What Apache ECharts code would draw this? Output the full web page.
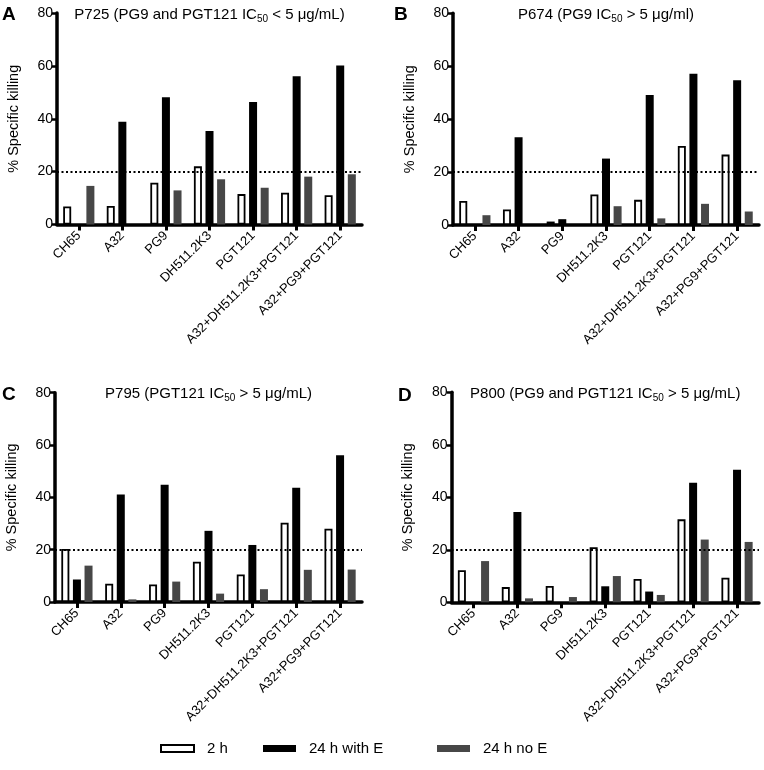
<!DOCTYPE html>
<html>
<head>
<meta charset="utf-8">
<script src="https://cdn.jsdelivr.net/npm/echarts@6/dist/echarts.min.js"></script>
<style>
html,body{margin:0;padding:0;background:#fff;}
#main{width:764px;height:770px;}
</style>
</head>
<body>
<div id="main"></div>
<script>
// ---- data ----
const categories = ['CH65','A32','PG9','DH511.2K3','PGT121','A32+DH511.2K3+PGT121','A32+PG9+PGT121'];
const seriesNames = ['2 h','24 h with E','24 h no E'];
const yTicks = [0, 20, 40, 60, 80];
const threshold = 20;

const p725_2h     = [6.8, 7.0, 15.8, 22.0, 11.5, 12.0, 11.1];
const p725_24hE   = [0, 38.9, 48.1, 35.4, 46.3, 56.1, 60.1];
const p725_24hNoE = [14.6, 0, 12.9, 17.1, 13.9, 18.1, 19.0];

const p674_2h     = [9.1, 5.9, 1.3, 11.5, 9.5, 29.9, 26.6];
const p674_24hE   = [0, 33.2, 2.2, 25.1, 49.1, 57.2, 54.7];
const p674_24hNoE = [3.7, 0, 0, 7.1, 2.5, 8.0, 5.1];

const p795_2h     = [20.3, 7.0, 6.7, 15.4, 10.5, 30.3, 28.0];
const p795_24hE   = [8.6, 41.1, 44.8, 27.2, 21.8, 43.7, 56.1];
const p795_24hNoE = [13.9, 1.0, 7.8, 3.2, 4.9, 12.3, 12.4];

const p800_2h     = [12.2, 5.8, 6.2, 21.0, 8.9, 31.6, 9.4];
const p800_24hE   = [0, 34.4, 0, 6.1, 4.1, 45.5, 50.5];
const p800_24hNoE = [15.7, 1.5, 2.0, 10.0, 2.8, 23.9, 23.0];

const panelLetters = ['A','B','C','D'];
const panelTitles = [
  ['P725 (PG9 and PGT121 IC', '50', ' < 5 μg/mL)'],
  ['P674 (PG9 IC', '50', ' > 5 μg/ml)'],
  ['P795 (PGT121 IC', '50', ' > 5 μg/mL)'],
  ['P800 (PG9 and PGT121 IC', '50', ' > 5 μg/mL)']
];
const panelData = [
  [p725_2h, p725_24hE, p725_24hNoE],
  [p674_2h, p674_24hE, p674_24hNoE],
  [p795_2h, p795_24hE, p795_24hNoE],
  [p800_2h, p800_24hE, p800_24hNoE]
];

// ---- layout / style ----
const FONT = 'Liberation Sans, Arial, Helvetica, sans-serif';
const grids = [
  {left: 57,    top: 13,    width: 305,   height: 211.5},
  {left: 453,   top: 13.3,  width: 306,   height: 211.7},
  {left: 55,    top: 392.7, width: 307,   height: 209.3},
  {left: 451.5, top: 392.3, width: 307.5, height: 210}
];
const letterPos = [[2, 5], [394, 5], [2, 385], [398, 386]];
const colors = ['#ffffff', '#000000', '#474747'];

const option = {
  animation: false,
  backgroundColor: '#ffffff',
  textStyle: {fontFamily: FONT, color: '#000'},
  grid: grids.map(g => Object.assign({containLabel: false}, g)),
  title: [],
  xAxis: [],
  yAxis: [],
  series: [],
  legend: []
};

grids.forEach((g, i) => {
  option.title.push({
    text: '{a|' + panelTitles[i][0] + '}{s|' + panelTitles[i][1] + '}{a|' + panelTitles[i][2] + '}',
    left: g.left + g.width / 2,
    top: g.top - 8,
    textAlign: 'center',
    padding: 0,
    textStyle: {
      fontWeight: 'normal',
      rich: {
        a: {fontFamily: FONT, fontSize: 15, color: '#000', fontWeight: 'normal'},
        s: {fontFamily: FONT, fontSize: 10, color: '#000', fontWeight: 'normal', padding: [9, 0, 0, 0]}
      }
    }
  });
  option.title.push({
    text: panelLetters[i],
    left: letterPos[i][0],
    top: letterPos[i][1],
    padding: 0,
    textStyle: {fontFamily: FONT, fontSize: 19, fontWeight: 'bold', color: '#000'}
  });
  option.xAxis.push({
    type: 'category',
    gridIndex: i,
    data: categories,
    boundaryGap: true,
    axisLine: {show: true, lineStyle: {color: '#000', width: 3.5}},
    axisTick: {show: true, alignWithLabel: true, length: 6, lineStyle: {color: '#000', width: 3}},
    axisLabel: {rotate: 45, fontSize: 13, color: '#000', fontFamily: FONT, margin: 9, interval: 0},
    splitLine: {show: false}
  });
  option.yAxis.push({
    type: 'value',
    gridIndex: i,
    min: yTicks[0],
    max: yTicks[yTicks.length - 1],
    interval: yTicks[1] - yTicks[0],
    name: '% Specific killing',
    nameLocation: 'middle',
    nameGap: 36,
    nameTextStyle: {fontSize: 14.5, color: '#000', fontFamily: FONT},
    axisLine: {show: true, lineStyle: {color: '#000', width: 3.5}},
    axisTick: {show: true, length: 5, lineStyle: {color: '#000', width: 2.5}},
    axisLabel: {fontSize: 14, color: '#000', fontFamily: FONT, margin: 4},
    splitLine: {show: false}
  });
  panelData[i].forEach((vals, k) => {
    const s = {
      name: seriesNames[k],
      type: 'bar',
      xAxisIndex: i,
      yAxisIndex: i,
      data: vals,
      barWidth: 8,
      barGap: '45%',
      itemStyle: k === 0
        ? {color: colors[0], borderColor: '#000', borderWidth: 1.8}
        : {color: colors[k]},
      emphasis: {disabled: true}
    };
    if (k === 0) {
      s.markLine = {
        silent: true,
        symbol: ['none', 'none'],
        label: {show: false},
        lineStyle: {color: '#000', type: [2, 2.5], width: 2},
        data: [{yAxis: threshold}]
      };
    }
    option.series.push(s);
  });
});

const legendLeft = [160, 263, 437];
seriesNames.forEach((n, k) => {
  option.legend.push({
    data: [n],
    left: legendLeft[k],
    top: 741,
    padding: 0,
    icon: 'rect',
    itemWidth: 33,
    itemHeight: 7,
    selectedMode: false,
    textStyle: {fontSize: 15, color: '#000', fontFamily: FONT, padding: [0, 0, 0, 8]}
  });
});

const chart = echarts.init(document.getElementById('main'), null, {renderer: 'canvas'});
chart.setOption(option);
</script>
</body>
</html>
